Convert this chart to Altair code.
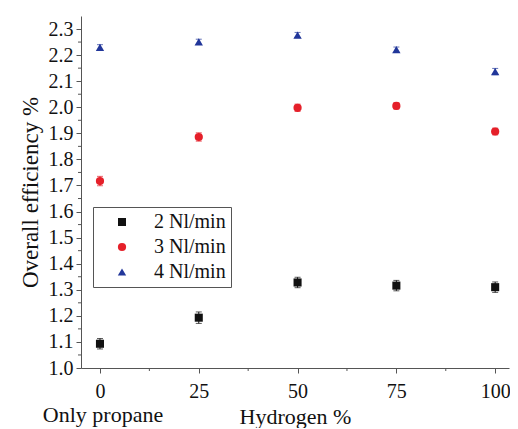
import altair as alt
import pandas as pd

hydrogen = [0, 25, 50, 75, 100]
series_names = ["2 Nl/min", "3 Nl/min", "4 Nl/min"]
eff_2 = [1.093, 1.193, 1.328, 1.316, 1.310]
eff_3 = [1.717, 1.886, 1.998, 2.005, 1.907]
eff_4 = [2.230, 2.251, 2.277, 2.221, 2.137]
err_2 = [0.020, 0.022, 0.020, 0.020, 0.020]
err_3 = [0.018, 0.016, 0.014, 0.012, 0.013]
err_4 = [0.010, 0.010, 0.010, 0.010, 0.012]
x_ticks = [0, 25, 50, 75, 100]
y_ticks = [1.0, 1.1, 1.2, 1.3, 1.4, 1.5, 1.6, 1.7, 1.8, 1.9, 2.0, 2.1, 2.2, 2.3]
colors = ["#111111", "#e5202a", "#22379a"]
shapes = ["square", "circle", "triangle-up"]
sizes = [65, 70, 95]

rows = []
for name, vals, errs in zip(series_names, [eff_2, eff_3, eff_4], [err_2, err_3, err_4]):
    for h, v, e in zip(hydrogen, vals, errs):
        rows.append({"h": h, "eff": v, "lo": v - e, "hi": v + e, "series": name})
df = pd.DataFrame(rows)

FONT = "Liberation Serif, Times New Roman, Times, serif"
W, H = 428, 352

xs = alt.Scale(domain=[-4.8, 103.5], nice=False, zero=False)
ys = alt.Scale(domain=[1.0, 2.35], nice=False, zero=False)
cs = alt.Scale(domain=series_names, range=colors)
ss = alt.Scale(domain=series_names, range=shapes)
zs = alt.Scale(domain=series_names, range=sizes)

leg = alt.Legend(title=None, orient="none", legendX=12, legendY=191,
                 strokeColor="#555", fillColor="white", padding=5,
                 labelFont=FONT, labelFontSize=20, labelColor="#111",
                 rowPadding=5, labelOffset=22, symbolOffset=14,
                 symbolStrokeWidth=0, symbolOpacity=1)

x_axis = alt.Axis(values=x_ticks, title="Hydrogen %", grid=False, tickSize=5,
                  titleFont=FONT, titleFontSize=22, titleFontWeight="normal",
                  titleColor="#111", titlePadding=5,
                  labelFont=FONT, labelFontSize=20, labelColor="#111", labelPadding=8,
                  domainColor="#555", tickColor="#555", labelOverlap=False)
y_axis = alt.Axis(values=y_ticks, format=".1f", title="Overall efficiency %", grid=False,
                  tickSize=5, titleFont=FONT, titleFontSize=23, titleFontWeight="normal",
                  titleColor="#111", titlePadding=6,
                  labelFont=FONT, labelFontSize=20, labelColor="#111", labelPadding=3,
                  domainColor="#555", tickColor="#555", labelOverlap=False)

base = alt.Chart(df)

pts = base.mark_point(filled=True, opacity=1).encode(
    x=alt.X("h:Q", scale=xs, axis=x_axis),
    y=alt.Y("eff:Q", scale=ys, axis=y_axis),
    color=alt.Color("series:N", scale=cs, legend=leg),
    shape=alt.Shape("series:N", scale=ss, legend=leg),
    size=alt.Size("series:N", scale=zs, legend=leg),
)

err = base.mark_errorbar(ticks=alt.MarkConfig(size=6), thickness=1).encode(
    x=alt.X("h:Q", scale=xs, axis=x_axis),
    y=alt.Y("lo:Q", scale=ys, axis=y_axis),
    y2="hi:Q",
    color=alt.Color("series:N", scale=cs, legend=leg),
)

minor_x = pd.DataFrame({"m": [12.5, 37.5, 62.5, 87.5]})
minor_xt = alt.Chart(minor_x).mark_rule(color="#555").encode(
    x=alt.X("m:Q", scale=xs, axis=x_axis), y=alt.value(H), y2=alt.value(H + 3))

minor_y = pd.DataFrame({"m": [1.05 + 0.1 * i for i in range(13)]})
minor_yt = alt.Chart(minor_y).mark_rule(color="#555").encode(
    y=alt.Y("m:Q", scale=ys, axis=y_axis), x=alt.value(0), x2=alt.value(-3))

note = alt.Chart(pd.DataFrame({"t": ["Only propane"]})).mark_text(
    font=FONT, fontSize=22, color="#111", align="center", baseline="alphabetic"
).encode(text="t:N", x=alt.value(22), y=alt.value(H + 54))

chart = alt.layer(pts, err, minor_xt, minor_yt, note).properties(
    width=W, height=H,
    autosize=alt.AutoSizeParams(type="none"),
    padding={"left": 73, "top": 8, "right": 1, "bottom": 60},
).configure_view(stroke=None)

chart.save("out.html", embed_options={"renderer": "svg", "actions": False})
